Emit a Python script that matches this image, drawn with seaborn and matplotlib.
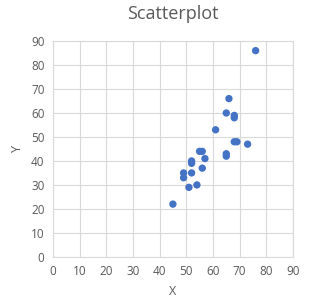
import seaborn as sns
import matplotlib.pyplot as plt
import pandas as pd

sns.set_theme(style="whitegrid")
plt.rcParams['font.family'] = ['Open Sans', 'DejaVu Sans']

x_vals = [76, 66, 65, 68, 68, 61, 68, 69, 73, 55, 56, 57, 65, 65, 52, 52, 56, 49, 49, 52, 54, 51, 45]
y_vals = [86, 66, 60, 59, 58, 53, 48, 48, 47, 44, 44, 41, 43, 42, 40, 39, 37, 35, 33, 35, 30, 29, 22]

df = pd.DataFrame({"X": x_vals, "Y": y_vals})

fig = plt.figure(figsize=(3.11, 3.04), dpi=100)
ax = fig.add_axes([0.170, 0.155, 0.772, 0.710])
sns.scatterplot(data=df, x="X", y="Y", ax=ax, color="#4472C4", s=28, edgecolor="none")

ax.set_xlim(0, 90)
ax.set_ylim(0, 90)
ax.set_xticks(range(0, 91, 10))
ax.set_yticks(range(0, 91, 10))
ax.grid(True, color="#D9D9D9", linewidth=0.8)
for sp in ax.spines.values():
    sp.set_color("#D9D9D9")
    sp.set_linewidth(0.8)
ax.tick_params(length=0, labelsize=8.5, colors="#595959", pad=6)
ax.set_xlabel("X", fontsize=9, color="#595959", labelpad=5)
ax.set_ylabel("Y", fontsize=9, color="#595959", labelpad=5)
ax.set_title("Scatterplot", fontsize=13, color="#595959", pad=16)

fig.savefig("out.png", dpi=100)
